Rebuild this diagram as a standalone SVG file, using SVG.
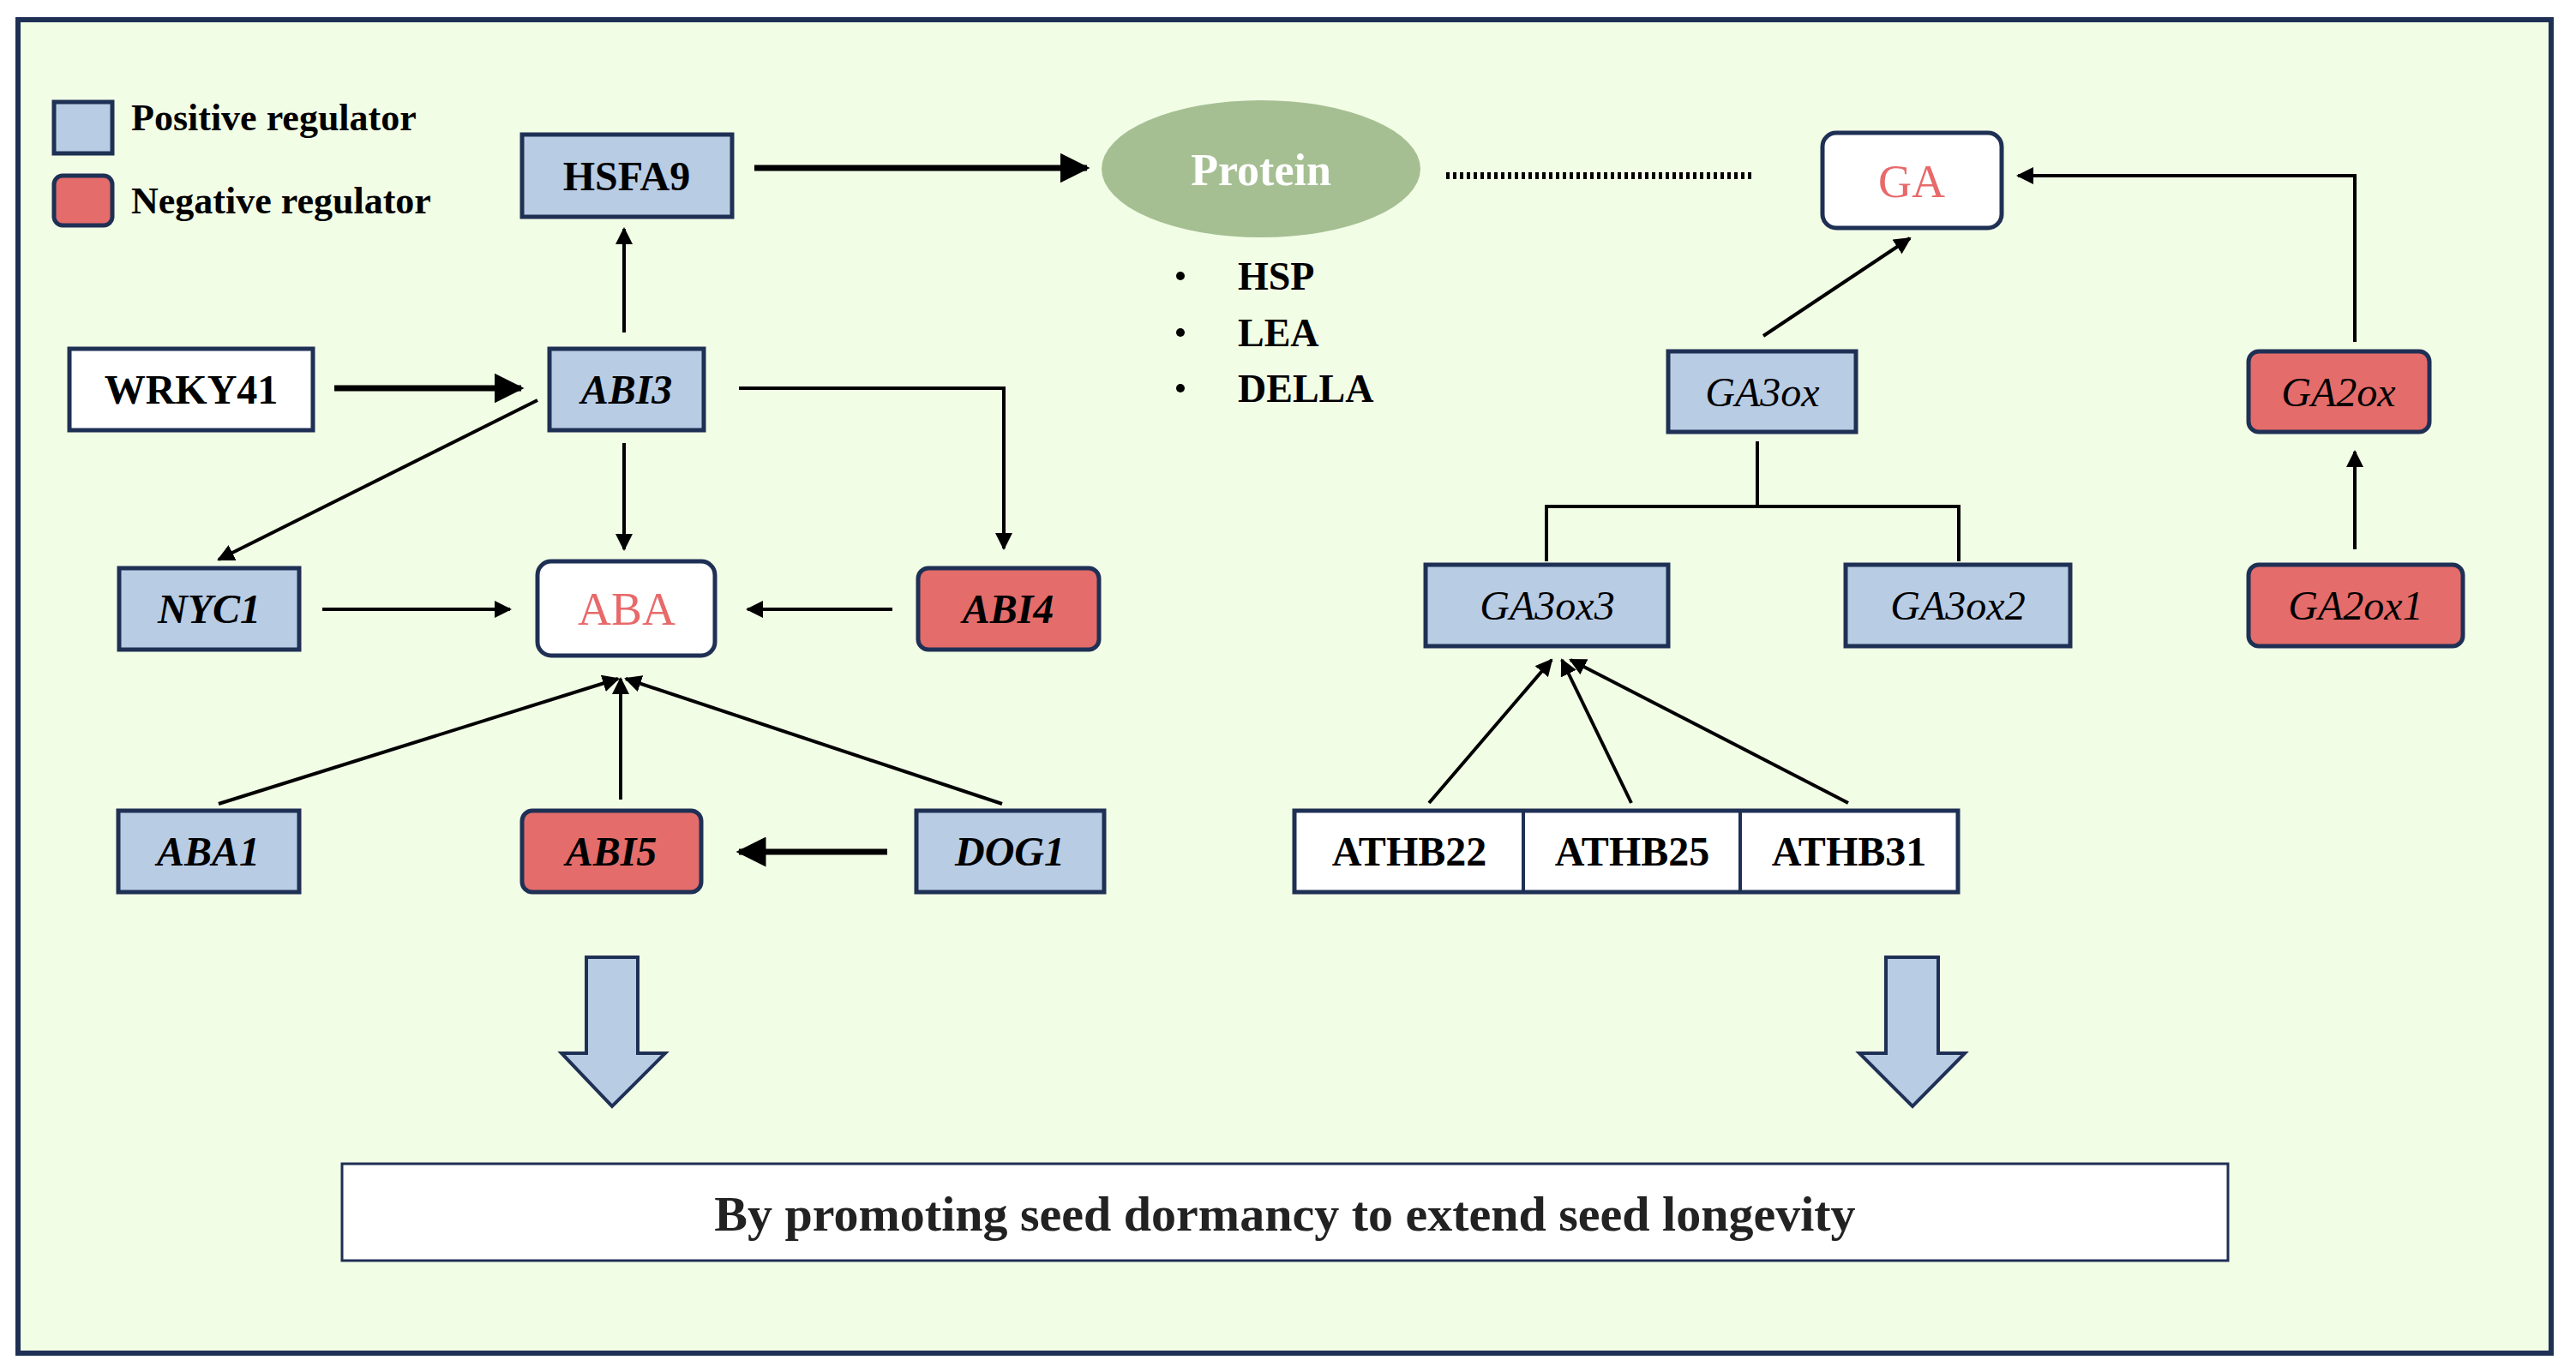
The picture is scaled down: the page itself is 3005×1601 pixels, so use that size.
<svg xmlns="http://www.w3.org/2000/svg" width="3005" height="1601" viewBox="0 0 3005 1601">
<style>
.pos{fill:#b8cce4;stroke:#1f3055;stroke-width:5}
.neg{fill:#e46c6a;stroke:#1f3055;stroke-width:5}
.wht{fill:#ffffff;stroke:#1f3055;stroke-width:5}
.t{font-family:"Liberation Serif",serif;font-size:48px;font-weight:bold;fill:#000;text-anchor:middle}
.i{font-style:italic}
.n{font-weight:normal}
.red{fill:#e8696a;font-weight:normal;font-size:54px}
.ln{stroke:#000;stroke-width:4;fill:none}
.thk{stroke-width:7}
</style>
<defs>
<marker id="ah" viewBox="0 0 10 10" refX="9" refY="5" markerWidth="4" markerHeight="4" markerUnits="userSpaceOnUse" orient="auto">
<path d="M0,0L10,5L0,10z" fill="#000"/>
</marker>
<marker id="a" viewBox="0 0 10 10" refX="9" refY="5" markerWidth="5" markerHeight="5" orient="auto">
<path d="M0,0L10,5L0,10z" fill="#000"/>
</marker>
</defs>
<rect x="0" y="0" width="3005" height="1601" fill="#fff"/>
<rect x="21" y="23" width="2955" height="1556" fill="#f2fde6" stroke="#1f3055" stroke-width="6"/>
<g id="legend">
<rect x="63" y="119" width="68" height="60" class="pos"/>
<rect x="63" y="205" width="68" height="58" rx="10" class="neg"/>
<text x="153" y="152" class="t" style="text-anchor:start;font-size:44px">Positive regulator</text>
<text x="153" y="249" class="t" style="text-anchor:start;font-size:44px">Negative regulator</text>
</g>
<g id="connectors">
<line x1="880" y1="196" x2="1268" y2="196" class="ln thk" marker-end="url(#a)"/>
<line x1="1687" y1="205" x2="2047" y2="205" stroke="#000" stroke-width="8" stroke-dasharray="4,4"/>
<line x1="728" y1="388" x2="728" y2="267" class="ln" marker-end="url(#a)"/>
<line x1="390" y1="453" x2="608" y2="453" class="ln thk" marker-end="url(#a)"/>
<polyline points="862,453 1171,453 1171,640" class="ln" marker-end="url(#a)"/>
<line x1="728" y1="517" x2="728" y2="641" class="ln" marker-end="url(#a)"/>
<line x1="627" y1="467" x2="255" y2="653" class="ln" marker-end="url(#a)"/>
<line x1="376" y1="711" x2="595" y2="711" class="ln" marker-end="url(#a)"/>
<line x1="1041" y1="711" x2="872" y2="711" class="ln" marker-end="url(#a)"/>
<line x1="255" y1="938" x2="721" y2="792" class="ln" marker-end="url(#a)"/>
<line x1="724" y1="933" x2="724" y2="792" class="ln" marker-end="url(#a)"/>
<line x1="1169" y1="938" x2="730" y2="792" class="ln" marker-end="url(#a)"/>
<line x1="1035" y1="994" x2="862" y2="994" class="ln thk" marker-end="url(#a)"/>
<line x1="2057" y1="392" x2="2228" y2="278" class="ln" marker-end="url(#a)"/>
<polyline points="2747,399 2747,205 2354,205" class="ln" marker-end="url(#a)"/>
<line x1="2747" y1="641" x2="2747" y2="527" class="ln" marker-end="url(#a)"/>
<polyline points="2050,515 2050,591" class="ln"/>
<polyline points="1804,655 1804,591 2285,591 2285,655" class="ln"/>
<line x1="1667" y1="937" x2="1810" y2="770" class="ln" marker-end="url(#a)"/>
<line x1="1903" y1="937" x2="1822" y2="770" class="ln" marker-end="url(#a)"/>
<line x1="2156" y1="937" x2="1832" y2="770" class="ln" marker-end="url(#a)"/>
<path d="M684,1117H744V1229H776L714,1291L655,1229H684Z" fill="#b8cce4" stroke="#1f3055" stroke-width="4"/>
<path d="M2200,1117H2261V1229H2292L2231,1291L2169,1229H2200Z" fill="#b8cce4" stroke="#1f3055" stroke-width="4"/>
</g>
<g id="HSFA9"><rect x="609" y="157" width="245" height="96" class="pos"/><text x="731" y="222" class="t">HSFA9</text></g>
<g id="Protein"><ellipse cx="1471" cy="197" rx="186" ry="80" fill="#a5bf92"/><text x="1471" y="216" class="t" style="fill:#fff;font-size:52px">Protein</text></g>
<g id="protein-list" font-family="Liberation Serif,serif" font-weight="bold" font-size="46">
<circle cx="1377" cy="322" r="5"/><text x="1444" y="338">HSP</text>
<circle cx="1377" cy="388" r="5"/><text x="1444" y="404">LEA</text>
<circle cx="1377" cy="453" r="5"/><text x="1444" y="469">DELLA</text>
</g>
<g id="GA"><rect x="2126" y="155" width="209" height="111" rx="16" class="wht"/><text x="2230" y="230" class="t red">GA</text></g>
<g id="WRKY41"><rect x="81" y="407" width="284" height="95" class="wht"/><text x="223" y="471" class="t">WRKY41</text></g>
<g id="ABI3"><rect x="641" y="407" width="180" height="95" class="pos"/><text x="731" y="471" class="t i">ABI3</text></g>
<g id="GA3ox"><rect x="1946" y="410" width="219" height="94" class="pos"/><text x="2056" y="474" class="t i n">GA3ox</text></g>
<g id="GA2ox"><rect x="2623" y="410" width="211" height="94" rx="12" class="neg"/><text x="2728" y="474" class="t i n">GA2ox</text></g>
<g id="NYC1"><rect x="139" y="663" width="210" height="95" class="pos"/><text x="244" y="727" class="t i">NYC1</text></g>
<g id="ABA"><rect x="627" y="655" width="207" height="110" rx="16" class="wht"/><text x="731" y="729" class="t red">ABA</text></g>
<g id="ABI4"><rect x="1071" y="663" width="211" height="95" rx="12" class="neg"/><text x="1176" y="727" class="t i">ABI4</text></g>
<g id="GA3ox3"><rect x="1663" y="659" width="283" height="95" class="pos"/><text x="1805" y="723" class="t i n">GA3ox3</text></g>
<g id="GA3ox2"><rect x="2153" y="659" width="262" height="95" class="pos"/><text x="2284" y="723" class="t i n">GA3ox2</text></g>
<g id="GA2ox1"><rect x="2623" y="659" width="250" height="95" rx="12" class="neg"/><text x="2748" y="723" class="t i n">GA2ox1</text></g>
<g id="ABA1"><rect x="138" y="946" width="211" height="95" class="pos"/><text x="243" y="1010" class="t i">ABA1</text></g>
<g id="ABI5"><rect x="609" y="946" width="209" height="95" rx="12" class="neg"/><text x="713" y="1010" class="t i">ABI5</text></g>
<g id="DOG1"><rect x="1069" y="946" width="219" height="95" class="pos"/><text x="1178" y="1010" class="t i">DOG1</text></g>
<g id="ATHB">
<rect x="1510" y="946" width="774" height="95" class="wht"/>
<line x1="1777" y1="946" x2="1777" y2="1041" stroke="#1f3055" stroke-width="4"/>
<line x1="2030" y1="946" x2="2030" y2="1041" stroke="#1f3055" stroke-width="4"/>
<text x="1644" y="1010" class="t">ATHB22</text>
<text x="1904" y="1010" class="t">ATHB25</text>
<text x="2157" y="1010" class="t">ATHB31</text>
</g>
<g id="result"><rect x="399" y="1358" width="2200" height="113" fill="#fff" stroke="#1f3055" stroke-width="3"/><text x="1499" y="1436" class="t" style="font-size:58px;fill:#222">By promoting seed dormancy to extend seed longevity</text></g>
</svg>
